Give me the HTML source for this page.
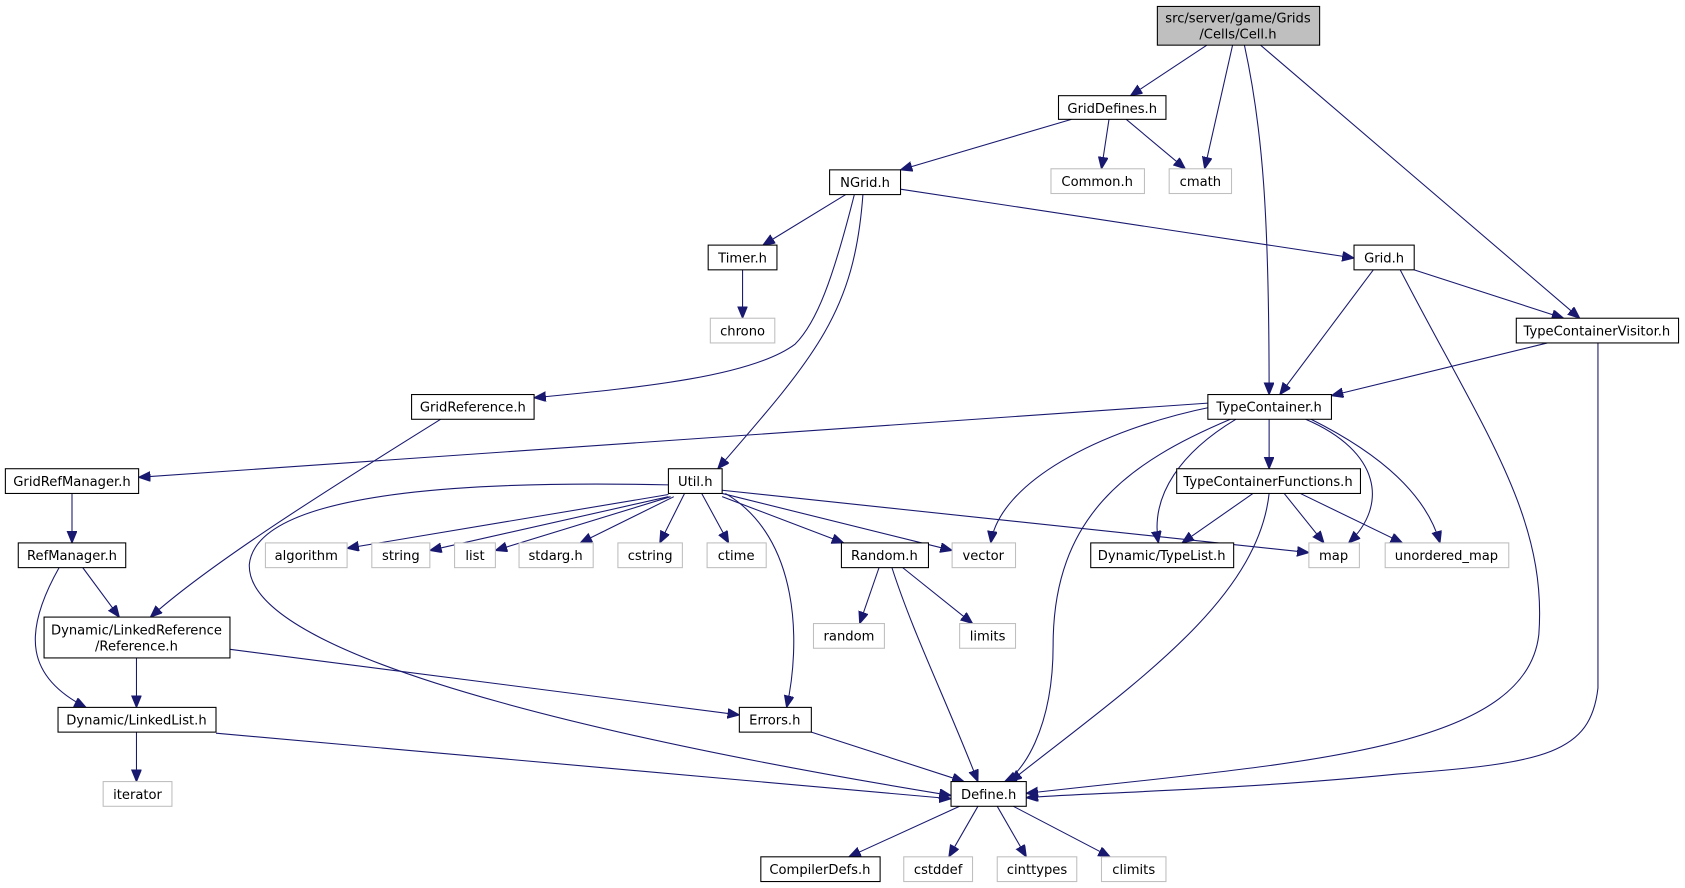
<!DOCTYPE html>
<html><head><meta charset="utf-8"><style>
html,body{margin:0;padding:0;background:#fff;width:1685px;height:888px;overflow:hidden}
svg{display:block}
text{font-family:"DejaVu Sans","Liberation Sans",sans-serif;font-size:12.2px;fill:#000;text-anchor:middle}
.b{fill:#fff;stroke:#000;stroke-width:1}
.g{fill:#fff;stroke:#bfbfbf;stroke-width:1}
.e{fill:none;stroke:#191970;stroke-width:1}
</style></head><body>
<svg width="1685" height="888" viewBox="0 0 1568 826" preserveAspectRatio="none">
<defs><marker id="a" markerUnits="userSpaceOnUse" markerWidth="12" markerHeight="10" refX="11" refY="4.5" orient="auto"><path d="M0,0 L11,4.5 L0,9 z" fill="#191970" stroke="#191970"/></marker></defs>
<g class="e" marker-end="url(#a)">
<path d="M1123,42 L1052,89"/>
<path d="M1147,42 L1121,157"/>
<path d="M1158,42 C1175,120 1181,200 1181,367"/>
<path d="M1173,42 L1470,296"/>
<path d="M997,111 L838,158"/>
<path d="M1032,111 L1025,157"/>
<path d="M1048,111 L1103,157"/>
<path d="M787,181 L710,228"/>
<path d="M838,176 L1260,240"/>
<path d="M795,181 C775,260 760,300 740,320 C700,350 600,360 497,370"/>
<path d="M803,181 C795,290 760,330 668,436"/>
<path d="M691,251 L691,296"/>
<path d="M1278,251 L1191,367"/>
<path d="M1316,251 L1455,296"/>
<path d="M1303,251 C1380,400 1440,480 1432,590 C1420,700 1200,710 955,738"/>
<path d="M1440,319 L1239,368"/>
<path d="M1487,319 L1487,640 C1480,700 1440,710 1300,720 C1150,735 1000,738 955,742"/>
<path d="M410,390 C330,440 200,520 140,574"/>
<path d="M1124,375 L129,444"/>
<path d="M1130,378 C1020,400 930,450 922,505"/>
<path d="M1145,390 C1050,430 980,480 980,600 C980,680 950,720 935,727"/>
<path d="M1150,390 C1100,420 1070,460 1078,505"/>
<path d="M1181,390 L1181,436"/>
<path d="M1215,390 C1285,420 1292,470 1255,505"/>
<path d="M1220,390 C1300,430 1330,470 1340,505"/>
<path d="M67,459 L67,505"/>
<path d="M622,460 L323,510"/>
<path d="M622,462 L400,512"/>
<path d="M624,462 L461,512"/>
<path d="M627,462 L540,505"/>
<path d="M637,459 L614,505"/>
<path d="M653,459 L678,505"/>
<path d="M672,462 L785,505"/>
<path d="M672,459 L886,512"/>
<path d="M672,456 L1218,514"/>
<path d="M675,459 C745,500 745,600 732,658"/>
<path d="M622,451 C480,448 240,450 232,525 C228,620 640,700 885,740"/>
<path d="M1166,459 L1100,505"/>
<path d="M1195,459 L1232,505"/>
<path d="M1210,459 L1305,505"/>
<path d="M1181,459 C1170,560 1050,640 940,727"/>
<path d="M77,528 L111,574"/>
<path d="M55,528 C20,590 25,630 80,658"/>
<path d="M127,612 L127,658"/>
<path d="M214,604 L688,665"/>
<path d="M818,528 L800,580"/>
<path d="M840,528 L905,580"/>
<path d="M830,528 C850,590 880,650 910,727"/>
<path d="M127,681 L127,727"/>
<path d="M201,682 L885,743"/>
<path d="M755,681 L897,727"/>
<path d="M893,750 L790,797"/>
<path d="M910,750 L883,797"/>
<path d="M928,750 L955,797"/>
<path d="M943,750 L1033,797"/>
</g>
<rect x="1077" y="6" width="151" height="36" fill="#bfbfbf" stroke="#000"/>
<text x="1152" y="21">src/server/game/Grids</text><text x="1152" y="36">/Cells/Cell.h</text>
<rect class="b" x="985" y="89" width="100" height="22"/><text x="1035" y="105">GridDefines.h</text>
<rect class="b" x="772" y="158" width="66" height="23"/><text x="805" y="174">NGrid.h</text>
<rect class="g" x="978" y="157" width="87" height="23"/><text x="1021" y="173">Common.h</text>
<rect class="g" x="1088" y="157" width="58" height="23"/><text x="1117" y="173">cmath</text>
<rect class="b" x="659" y="228" width="64" height="23"/><text x="691" y="244">Timer.h</text>
<rect class="b" x="1260" y="228" width="56" height="23"/><text x="1288" y="244">Grid.h</text>
<rect class="g" x="661" y="296" width="60" height="23"/><text x="691" y="312">chrono</text>
<rect class="b" x="1411" y="296" width="151" height="23"/><text x="1486" y="312">TypeContainerVisitor.h</text>
<rect class="b" x="383" y="367" width="114" height="23"/><text x="440" y="383">GridReference.h</text>
<rect class="b" x="1124" y="367" width="115" height="23"/><text x="1181" y="383">TypeContainer.h</text>
<rect class="b" x="5" y="436" width="124" height="23"/><text x="67" y="452">GridRefManager.h</text>
<rect class="b" x="622" y="436" width="50" height="23"/><text x="647" y="452">Util.h</text>
<rect class="b" x="1095" y="436" width="171" height="23"/><text x="1180" y="452">TypeContainerFunctions.h</text>
<rect class="b" x="17" y="505" width="100" height="23"/><text x="67" y="521">RefManager.h</text>
<rect class="g" x="247" y="505" width="76" height="23"/><text x="285" y="521">algorithm</text>
<rect class="g" x="346" y="505" width="54" height="23"/><text x="373" y="521">string</text>
<rect class="g" x="423" y="505" width="38" height="23"/><text x="442" y="521">list</text>
<rect class="g" x="483" y="505" width="69" height="23"/><text x="517" y="521">stdarg.h</text>
<rect class="g" x="575" y="505" width="60" height="23"/><text x="605" y="521">cstring</text>
<rect class="g" x="658" y="505" width="55" height="23"/><text x="685" y="521">ctime</text>
<rect class="b" x="783" y="505" width="81" height="23"/><text x="823" y="521">Random.h</text>
<rect class="g" x="886" y="505" width="59" height="23"/><text x="915" y="521">vector</text>
<rect class="b" x="1015" y="505" width="133" height="23"/><text x="1081" y="521">Dynamic/TypeList.h</text>
<rect class="g" x="1218" y="505" width="47" height="23"/><text x="1241" y="521">map</text>
<rect class="g" x="1289" y="505" width="115" height="23"/><text x="1346" y="521">unordered_map</text>
<rect class="b" x="41" y="574" width="173" height="38"/><text x="127" y="590">Dynamic/LinkedReference</text><text x="127" y="605">/Reference.h</text>
<rect class="g" x="757" y="580" width="66" height="23"/><text x="790" y="596">random</text>
<rect class="g" x="893" y="580" width="52" height="23"/><text x="919" y="596">limits</text>
<rect class="b" x="54" y="658" width="147" height="23"/><text x="127" y="674">Dynamic/LinkedList.h</text>
<rect class="b" x="688" y="658" width="67" height="23"/><text x="721" y="674">Errors.h</text>
<rect class="g" x="96" y="727" width="64" height="23"/><text x="128" y="743">iterator</text>
<rect class="b" x="885" y="727" width="70" height="23"/><text x="920" y="743">Define.h</text>
<rect class="b" x="708" y="797" width="111" height="23"/><text x="763" y="813">CompilerDefs.h</text>
<rect class="g" x="841" y="797" width="64" height="23"/><text x="873" y="813">cstddef</text>
<rect class="g" x="928" y="797" width="74" height="23"/><text x="965" y="813">cinttypes</text>
<rect class="g" x="1025" y="797" width="60" height="23"/><text x="1055" y="813">climits</text>
</svg>
</body></html>
